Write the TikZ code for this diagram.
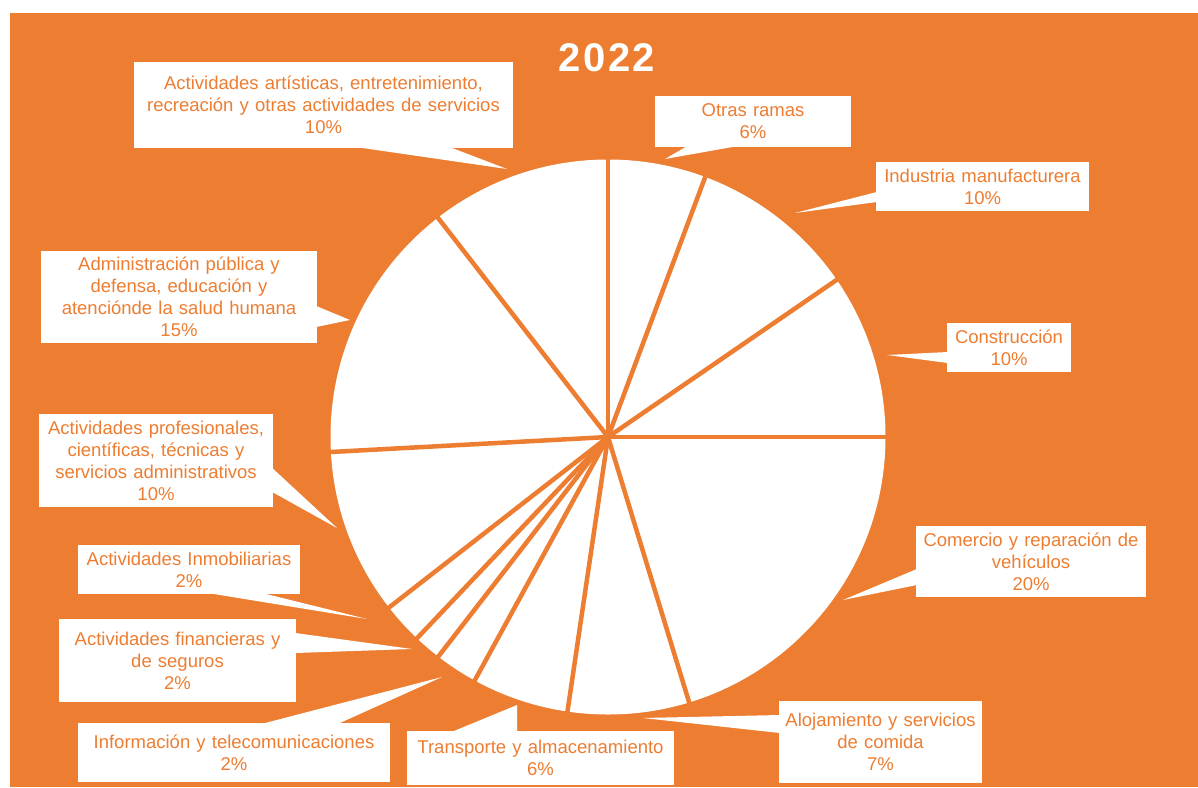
\documentclass[tikz,border=0pt]{standalone}
\usepackage{fontspec}
\setmainfont{Liberation Sans}
\definecolor{xlorange}{RGB}{237,125,49}
\begin{document}
\begin{tikzpicture}[x=1pt,y=-1pt,
  lbl/.style={fill=white, text=xlorange, inner sep=0pt, align=center,
    font=\fontsize{18.5}{22}\selectfont},
  ptr/.style={fill=white},
  sep/.style={draw=xlorange, line width=4.5pt}]
\useasboundingbox (0,0) rectangle (1198,787);
\fill[white] (0,0) rectangle (1198,787);
\fill[xlorange] (10,13) rectangle (1198,787);
\node[text=white, inner sep=0pt,
  font=\fontsize{40}{48}\selectfont\bfseries\addfontfeature{LetterSpace=6}] (title) at (607,58) {2022};
% pie
\coordinate (c) at (608,437);
\fill[white] (c) circle[radius=277.5];
\foreach \a in {90,69.5,34.5,0,-73,-98.4,-118.7,-127.7,-133.5,-142.1,-176.9,127.8}
  \draw[sep] (c) -- ++({cos(\a)*280},{-sin(\a)*280});
% callout boxes
\node[lbl, minimum height=86pt, text width=379pt] (art) at (323.5,105)
  {Actividades artísticas, entretenimiento,\\recreación y otras actividades de servicios\\10\%};
\node[lbl, minimum height=51pt, text width=196pt] (otras) at (753,121.5) {Otras ramas\\6\%};
\node[lbl, minimum height=49pt, text width=213pt] (ind) at (982.5,186.5) {Industria manufacturera\\10\%};
\node[lbl, minimum height=49pt, text width=124pt] (cons) at (1009,347.5) {Construcción\\10\%};
\node[lbl, minimum height=71pt, text width=230pt] (com) at (1031,561.5) {Comercio y reparación de\\vehículos\\20\%};
\node[lbl, minimum height=82pt, text width=203pt] (alo) at (880.5,742) {Alojamiento y servicios\\de comida\\7\%};
\node[lbl, minimum height=54pt, text width=267pt] (trans) at (540.5,758) {Transporte y almacenamiento\\6\%};
\node[lbl, minimum height=59pt, text width=312pt] (info) at (234,752.5) {Información y telecomunicaciones\\2\%};
\node[lbl, minimum height=83pt, text width=237pt] (fin) at (177.5,660.5) {Actividades financieras y\\de seguros\\2\%};
\node[lbl, minimum height=49pt, text width=222pt] (inm) at (189,569.5) {Actividades Inmobiliarias\\2\%};
\node[lbl, minimum height=93pt, text width=234pt] (prof) at (156,460.5)
  {Actividades profesionales,\\científicas, técnicas y\\servicios administrativos\\10\%};
\node[lbl, minimum height=92pt, text width=276pt] (adm) at (179,297)
  {Administración pública y\\defensa, educación y\\atenciónde la salud humana\\15\%};
% pointer tips
\coordinate (artT) at (507,169);
\coordinate (otrasT) at (665,159);
\coordinate (indT) at (795,213);
\coordinate (consT) at (887,355);
\coordinate (comT) at (843,600);
\coordinate (aloT) at (643,718);
\coordinate (transT) at (517,705);
\coordinate (infoT) at (442,677);
\coordinate (finT) at (412,649);
\coordinate (inmT) at (367,619);
\coordinate (profT) at (337,528);
\coordinate (admT) at (350,320);
% pointers
\fill[ptr] ([yshift=1pt]art.south -| 357,0) -- (artT) -- ([yshift=1pt]art.south -| 450,0) -- cycle;
\fill[ptr] ([yshift=1pt]otras.south -| 687,0) -- (otrasT) -- ([yshift=1pt]otras.south -| 737,0) -- cycle;
\fill[ptr] ([xshift=1pt]ind.west |- 0,192) -- (indT) -- ([xshift=1pt]ind.west |- 0,202) -- cycle;
\fill[ptr] ([xshift=1pt]cons.west |- 0,352) -- (consT) -- ([xshift=1pt]cons.west |- 0,363) -- cycle;
\fill[ptr] ([xshift=1pt]com.west |- 0,569) -- (comT) -- ([xshift=1pt]com.west |- 0,585) -- cycle;
\fill[ptr] ([xshift=1pt]alo.west |- 0,715) -- (aloT) -- ([xshift=1pt]alo.west |- 0,733) -- cycle;
\fill[ptr] ([yshift=-1pt]trans.north -| 452,0) -- (transT) -- ([yshift=-1pt]trans.north -| 517,0) -- cycle;
\fill[ptr] ([yshift=-1pt]info.north -| 262,0) -- (infoT) -- ([yshift=-1pt]info.north -| 338,0) -- cycle;
\fill[ptr] ([xshift=-1pt]fin.east |- 0,633) -- (finT) -- ([xshift=-1pt]fin.east |- 0,653) -- cycle;
\fill[ptr] ([yshift=1pt]inm.south -| 209,0) -- (inmT) -- ([yshift=1pt]inm.south -| 263,0) -- cycle;
\fill[ptr] ([xshift=-1pt]prof.east |- 0,468) -- (profT) -- ([xshift=-1pt]prof.east |- 0,492) -- cycle;
\fill[ptr] ([xshift=-1pt]adm.east |- 0,306) -- (admT) -- ([xshift=-1pt]adm.east |- 0,327) -- cycle;
\end{tikzpicture}
\end{document}
